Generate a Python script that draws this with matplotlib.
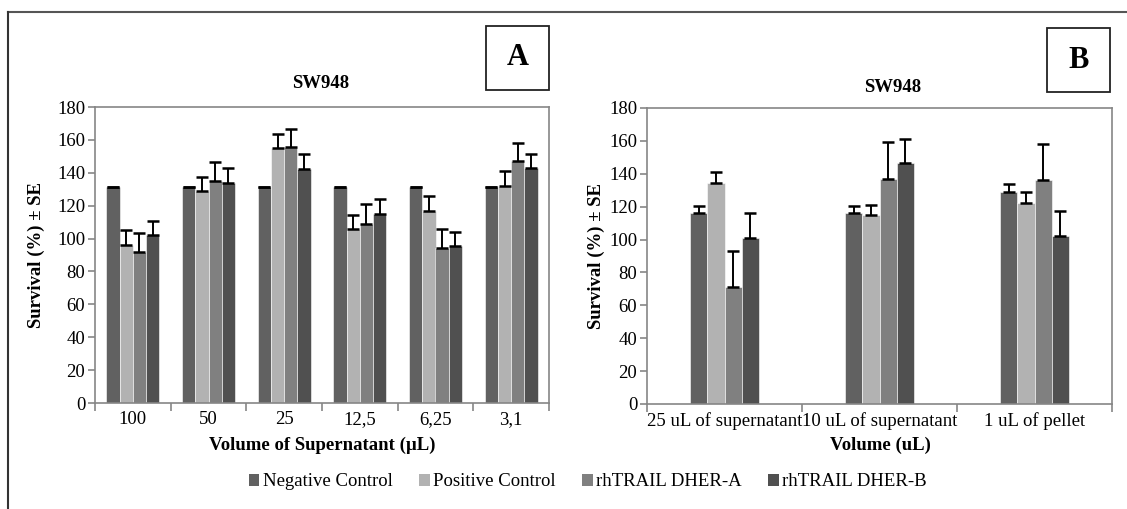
import numpy as np
import matplotlib
matplotlib.use("Agg")
from matplotlib import pyplot as plt
from matplotlib.patches import Rectangle, Patch
from matplotlib.lines import Line2D

plt.rcParams['font.family'] = ['Liberation Serif', 'DejaVu Serif']

# Data
series = ['Negative Control', 'Positive Control', 'rhTRAIL DHER-A', 'rhTRAIL DHER-B']
colors = ['#616161', '#b2b2b2', '#808080', '#505050']

# Panel A
cats_a = ['100', '50', '25', '12,5', '6,25', '3,1']
neg_a = [131.3, 131.3, 131.3, 131.3, 131.3, 131.3]
pos_a = [96, 129, 155, 106, 117, 132]
dhera_a = [92, 135, 155.5, 109, 94.5, 147]
dherb_a = [102, 134, 142.5, 115, 95.5, 143]
neg_a_se = [0, 0, 0, 0, 0, 0]
pos_a_se = [9.2, 8.7, 8.8, 8.4, 9, 8.8]
dhera_a_se = [11.2, 11.5, 11.3, 11.9, 11.5, 11.1]
dherb_a_se = [8.9, 9.2, 8.9, 8.9, 8.7, 8.4]

# Panel B
cats_b = ['25 uL of supernatant', '10 uL of supernatant', '1 uL of pellet']
neg_b = [116, 116, 129]
pos_b = [134.5, 114.7, 122.4]
dhera_b = [70.9, 137, 136]
dherb_b = [101.2, 146.4, 102]
neg_b_se = [4.6, 4.6, 4.9]
pos_b_se = [6.8, 6.3, 6.3]
dhera_b_se = [21.9, 22.3, 21.9]
dherb_b_se = [15, 15, 15.2]

W, H = 1127, 509
fig = plt.figure(figsize=(W / 100, H / 100), dpi=100)


def fx(px):
    return px / W


def fy(py):
    return 1 - py / H


axis_gray = '#868686'
FS = 13.5


def draw_panel(ax, cats, vals, errs, group_frac):
    n = len(cats)
    x = np.arange(n) + 0.5
    bw = group_frac / 4
    for i in range(4):
        xs = x - group_frac / 2 + bw * (i + 0.5)
        ax.bar(xs, vals[i], width=bw, color=colors[i], edgecolor='white',
               linewidth=0.4, zorder=2)
        ax.errorbar(xs, vals[i], yerr=[np.zeros(n), errs[i]], fmt='none',
                    ecolor='black', elinewidth=1.4, capsize=4.3, capthick=1.8,
                    zorder=3)
    ax.set_xlim(0, n)
    ax.set_ylim(0, 180)
    ax.set_yticks(np.arange(0, 181, 20))
    ax.set_xticks(np.arange(0, n + 1))
    ax.set_xticklabels([])
    ax.set_xticks(x, minor=True)
    ax.set_xticklabels(cats, minor=True)
    ax.tick_params(axis='x', which='minor', length=0, pad=6, labelsize=FS)
    ax.tick_params(axis='x', which='major', length=6, direction='out',
                   color=axis_gray, width=1.2)
    ax.tick_params(axis='y', length=5, direction='out', color=axis_gray,
                   width=1.2, labelsize=FS, pad=2)
    for s in ax.spines.values():
        s.set_color(axis_gray)
        s.set_linewidth(1.2)


# Panel A
ax1 = fig.add_axes([fx(95), fy(403), fx(549) - fx(95), fy(107) - fy(403)])
draw_panel(ax1, cats_a, [neg_a, pos_a, dhera_a, dherb_a],
           [neg_a_se, pos_a_se, dhera_a_se, dherb_a_se], 0.70)

# Panel B
ax2 = fig.add_axes([fx(647), fy(404), fx(1112) - fx(647), fy(108) - fy(404)])
draw_panel(ax2, cats_b, [neg_b, pos_b, dhera_b, dherb_b],
           [neg_b_se, pos_b_se, dhera_b_se, dherb_b_se], 0.44)

# Titles and axis labels
fig.text(fx(321), fy(83), 'SW948', ha='center', va='center', fontsize=FS, fontweight='bold')
fig.text(fx(893), fy(88), 'SW948', ha='center', va='center', fontsize=FS, fontweight='bold')
fig.text(fx(36), fy(255), 'Survival (%) ± SE', rotation=90, ha='center', va='center',
         fontsize=FS, fontweight='bold')
fig.text(fx(596), fy(256), 'Survival (%) ± SE', rotation=90, ha='center', va='center',
         fontsize=FS, fontweight='bold')
fig.text(fx(322), fy(445), 'Volume of Supernatant (µL)', ha='center', va='center',
         fontsize=FS, fontweight='bold')
fig.text(fx(880), fy(445), 'Volume (uL)', ha='center', va='center',
         fontsize=FS, fontweight='bold')

# Panel letter boxes
for (x0, y0, x1, y1, lab) in [(486, 26, 549, 90, 'A'), (1047, 28, 1110, 92, 'B')]:
    fig.patches.append(Rectangle((fx(x0), fy(y1)), fx(x1) - fx(x0), fy(y0) - fy(y1),
                                 transform=fig.transFigure, fill=False,
                                 edgecolor='#222222', linewidth=1.3))
    fig.text(fx((x0 + x1) / 2), fy((y0 + y1) / 2), lab, ha='center', va='center',
             fontsize=22, fontweight='bold')

# Outer frame (top and left only)
fig.lines.append(Line2D([fx(8), 1], [fy(12), fy(12)], transform=fig.transFigure,
                        color='#555555', linewidth=1.5))
fig.lines.append(Line2D([fx(8), fx(8)], [fy(12), 0], transform=fig.transFigure,
                        color='#333333', linewidth=1.5))

# Legend
handles = [Patch(facecolor=c, edgecolor='none') for c in colors]
fig.legend(handles, series, loc='center', bbox_to_anchor=(fx(588), fy(482)), ncol=4,
           frameon=False, fontsize=FS, handlelength=0.55, handleheight=0.55,
           handletextpad=0.2, columnspacing=1.4)

fig.savefig('out.png', dpi=100)
